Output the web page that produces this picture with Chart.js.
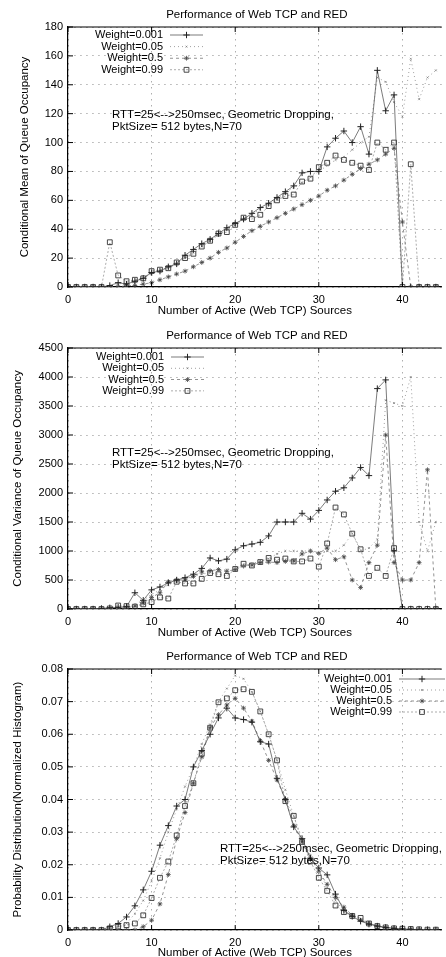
<!DOCTYPE html>
<html><head><meta charset="utf-8">
<style>
html,body{margin:0;padding:0;background:#fff;width:446px;height:957px;overflow:hidden;position:relative}
.c{position:absolute;left:0;width:446px;height:320px}
</style>
<script src="https://cdn.jsdelivr.net/npm/chart.js@4.4.0/dist/chart.umd.min.js"></script>
</head><body>
<div class="c" style="top:0"><canvas id="c1"></canvas></div>
<div class="c" style="top:322px"><canvas id="c2"></canvas></div>
<div class="c" style="top:642px"><canvas id="c3"></canvas></div>
<script>
// ---------------- DATA ----------------
const xValues = [0,1,2,3,4,5,6,7,8,9,10,11,12,13,14,15,16,17,18,19,20,21,22,23,24,25,26,27,28,29,30,31,32,33,34,35,36,37,38,39,40,41,42,43,44];
const xTicks = [0,10,20,30,40];
const meanTicks = [0,20,40,60,80,100,120,140,160,180];
const varTicks = [0,500,1000,1500,2000,2500,3000,3500,4000,4500];
const probTicks = [0,0.01,0.02,0.03,0.04,0.05,0.06,0.07,0.08];
const seriesLabels = ["Weight=0.001","Weight=0.05","Weight=0.5","Weight=0.99"];
const chartTitle = "Performance of Web TCP and RED";
const xAxisTitle = "Number of Active (Web TCP) Sources";
const meanYTitle = "Conditional Mean of Queue Occupancy";
const varYTitle = "Conditional Variance of Queue Occupancy";
const probYTitle = "Probability Distribution(Normalized Histogram)";
const noteLines = ["RTT=25<-->250msec, Geometric Dropping,", "PktSize= 512 bytes,N=70"];

// Conditional mean
const meanW0001 = [0,0,0,0,0,1,3,2,4,6,10,11,14,16,22,26,30,33,37,41,44,47,51,55,58,62,66,70,79,80,80,97,103,108,100,111,92,150,122,133,0,0,0,0,0];
const meanW005  = [0,0,0,0,0,0,2,3,4,6,9,11,13,16,20,24,28,32,36,40,43,47,50,54,57,61,65,69,72,76,80,84,88,90,95,100,104,145,142,128,118,158,130,145,150];
const meanW05   = [0,0,0,0,0,0,0,1,1,2,3,5,7,9,11,14,17,20,24,27,31,35,39,42,45,48,51,54,57,60,63,67,70,74,78,82,85,88,92,96,45,0,0,0,0];
const meanW099  = [0,0,0,0,0,31,8,4,5,6,11,12,13,17,20,23,28,32,37,38,43,48,47,50,56,60,63,64,73,75,83,86,91,88,86,84,81,100,95,100,0,85,0,0,0];

// Conditional variance
const varW0001 = [0,0,0,0,10,20,30,40,280,150,330,380,450,500,540,600,700,880,830,860,1020,1090,1120,1150,1260,1500,1500,1500,1650,1550,1700,1880,2030,2090,2260,2440,2300,3800,3950,1000,0,0,0,0,0];
const varW005  = [0,0,0,0,0,0,20,40,80,150,250,330,420,470,520,560,600,630,650,680,700,740,780,830,870,950,1000,1000,1000,1000,950,1000,1000,1100,1300,1000,1050,1200,3600,3550,3500,4000,1500,1000,1500];
const varW05   = [0,0,0,0,0,0,10,20,50,100,200,280,470,500,500,560,640,660,680,650,680,740,760,800,810,800,820,830,950,1000,960,1050,850,900,500,370,800,1100,3000,800,500,500,800,2400,0];
const varW099  = [0,0,0,0,0,10,60,50,40,80,120,200,180,470,440,440,520,620,600,570,690,780,750,810,880,850,870,820,820,870,730,1130,1750,1630,1300,1030,570,710,570,1050,0,0,0,0,0];

// Probability distribution
const probW0001 = [0,0,0,0,0,0.001,0.002,0.004,0.0074,0.0123,0.018,0.026,0.032,0.038,0.040,0.050,0.055,0.060,0.065,0.068,0.065,0.0645,0.0637,0.0577,0.057,0.0465,0.040,0.0316,0.028,0.022,0.019,0.0169,0.011,0.006,0.0042,0.0027,0.0018,0.0012,0.0008,0.0005,0.0003,0.0002,0.0001,0.0001,0];
const probW005  = [0,0,0,0,0,0,0.001,0.002,0.005,0.009,0.015,0.022,0.030,0.037,0.044,0.050,0.057,0.063,0.070,0.074,0.078,0.077,0.073,0.067,0.060,0.052,0.043,0.035,0.028,0.023,0.018,0.013,0.009,0.006,0.004,0.003,0.002,0.0013,0.0008,0.0005,0.0003,0.0002,0.0001,0.0001,0];
const probW05   = [0,0,0,0,0,0,0,0,0,0.001,0.003,0.008,0.017,0.028,0.036,0.045,0.053,0.062,0.066,0.069,0.071,0.068,0.064,0.058,0.052,0.046,0.040,0.032,0.027,0.022,0.018,0.014,0.010,0.007,0.0045,0.003,0.002,0.0012,0.0007,0.0004,0.0002,0.0002,0.0001,0,0];
const probW099  = [0,0,0,0,0,0.0005,0.001,0.0015,0.002,0.0045,0.0098,0.016,0.021,0.029,0.038,0.045,0.054,0.062,0.0698,0.071,0.0735,0.0738,0.073,0.067,0.060,0.052,0.0395,0.035,0.027,0.021,0.016,0.012,0.0075,0.0055,0.0043,0.0037,0.002,0.0012,0.0008,0.0005,0.0004,0.0003,0.0002,0.0001,0.0001];

// ---------------- STYLE ----------------
const FONT_FAMILY = '"Liberation Sans", Arial, Helvetica, sans-serif';
const FONT_SIZE = 11;
const TITLE_SIZE = 11.5;
const FONT = FONT_SIZE + 'px ' + FONT_FAMILY;
const TFONT = TITLE_SIZE + 'px ' + FONT_FAMILY;
const styles = [
  {borderColor:'#444', borderWidth:0.7, borderDash:[], pointStyle:'cross', pointRadius:3.2, pointBorderWidth:1, pointColor:'#222'},
  {borderColor:'#888', borderWidth:0.8, borderDash:[1,3], pointStyle:'crossRot', pointRadius:1.3, pointBorderWidth:0.7, pointColor:'#777'},
  {borderColor:'#777', borderWidth:0.8, borderDash:[3,3], pointStyle:'star', pointRadius:2.4, pointBorderWidth:0.8, pointColor:'#444'},
  {borderColor:'#888', borderWidth:0.7, borderDash:[2,2], pointStyle:'rect', pointRadius:3.4, pointBorderWidth:0.9, pointColor:'#333'}
];

function makeDatasets(arrs){
  return arrs.map((arr,i)=>{
    const s = styles[i];
    return {
      label: seriesLabels[i],
      data: xValues.map((x,k)=>({x:x, y:arr[k]})),
      borderColor: s.borderColor, borderWidth: s.borderWidth, borderDash: s.borderDash,
      pointStyle: s.pointStyle, pointRadius: s.pointRadius, pointBorderWidth: s.pointBorderWidth,
      pointBorderColor: s.pointColor, pointBackgroundColor: 'rgba(0,0,0,0)',
      pointHoverRadius: s.pointRadius, tension: 0, fill: false
    };
  });
}

const decor = {
  id: 'decor',
  afterDraw(chart, args, o) {
    const ctx = chart.ctx, a = chart.chartArea;
    ctx.save();
    ctx.fillStyle = '#000';
    ctx.font = TFONT;
    ctx.textAlign = 'center'; ctx.textBaseline = 'middle';
    ctx.fillText(chartTitle, (a.left + a.right) / 2 + 2, a.top - 12);
    // top border
    ctx.strokeStyle = '#000'; ctx.lineWidth = 1.2;
    ctx.beginPath(); ctx.moveTo(a.left, a.top); ctx.lineTo(a.right, a.top); ctx.stroke();
    // inward tick marks
    ctx.lineWidth = 1;
    const xs = chart.scales.x, ys = chart.scales.y;
    xs.ticks.forEach(t => {
      const px = xs.getPixelForValue(t.value);
      ctx.beginPath(); ctx.moveTo(px, a.bottom); ctx.lineTo(px, a.bottom - 5);
      ctx.moveTo(px, a.top); ctx.lineTo(px, a.top + 5); ctx.stroke();
    });
    ys.ticks.forEach(t => {
      const py = ys.getPixelForValue(t.value);
      ctx.beginPath(); ctx.moveTo(a.left, py); ctx.lineTo(a.left + 5, py); ctx.stroke();
    });
    // annotation
    ctx.font = TFONT;
    ctx.textAlign = 'left';
    noteLines.forEach((t, i) => ctx.fillText(t, o.noteX, o.noteY + i * 11.5));
    // legend
    ctx.font = FONT;
    chart.data.datasets.forEach((ds, i) => {
      const y = o.legY + i * o.legDy;
      ctx.fillStyle = '#000';
      ctx.textAlign = 'right';
      ctx.fillText(ds.label, o.legX, y);
      ctx.save();
      ctx.strokeStyle = ds.borderColor; ctx.lineWidth = ds.borderWidth;
      ctx.setLineDash(ds.borderDash || []);
      ctx.beginPath(); ctx.moveTo(o.legX + 7, y); ctx.lineTo(o.legX + 7 + o.legLen, y); ctx.stroke();
      ctx.restore();
      ctx.save();
      ctx.strokeStyle = ds.pointBorderColor; ctx.fillStyle = 'rgba(0,0,0,0)'; ctx.lineWidth = ds.pointBorderWidth;
      Chart.helpers.drawPoint(ctx, {pointStyle: ds.pointStyle, radius: ds.pointRadius, rotation: 0, borderWidth: ds.pointBorderWidth}, o.legX + 7 + o.legLen / 2, y);
      ctx.restore();
    });
    ctx.restore();
  }
};

function fmt(v, step){
  if (step < 1) return v === 0 ? '0' : v.toFixed(2);
  return String(v);
}

function build(id, arrs, yTicks, yTitle, lay){
  const yMax = yTicks[yTicks.length - 1];
  const step = yTicks[1] - yTicks[0];
  new Chart(document.getElementById(id), {
    type: 'line',
    data: { datasets: makeDatasets(arrs) },
    options: {
      responsive: true, maintainAspectRatio: false, animation: false,
      layout: { padding: { top: lay.padTop, left: 0, right: 0, bottom: 0 } },
      plugins: { legend: { display: false }, tooltip: { enabled: false }, title: { display: false }, decor: lay },
      scales: {
        x: {
          type: 'linear', min: 0, max: 44.7,
          afterBuildTicks: s => { s.ticks = xTicks.map(v => ({value: v})); },
          afterFit: s => { s.height = lay.xH; },
          ticks: { font: {family: FONT_FAMILY, size: FONT_SIZE}, color: '#000', padding: 6, maxRotation: 0, autoSkip: false, callback: v => String(v) },
          grid: { color: 'rgba(0,0,0,0.4)', lineWidth: 0.8, drawTicks: false, tickLength: 0 },
          border: { display: true, color: '#000', width: 1.2, dash: [1.5, 4.5] },
          title: { display: true, text: xAxisTitle, font: {family: FONT_FAMILY, size: TITLE_SIZE}, color: '#000', padding: {top: 0, bottom: lay.xTitlePad} }
        },
        y: {
          type: 'linear', min: 0, max: yMax,
          afterBuildTicks: s => { s.ticks = yTicks.map(v => ({value: v})); },
          afterFit: s => { s.width = 68; },
          ticks: { font: {family: FONT_FAMILY, size: FONT_SIZE}, color: '#000', padding: 5, autoSkip: false, callback: v => fmt(v, step) },
          grid: { color: 'rgba(0,0,0,0.4)', lineWidth: 0.8, drawTicks: false, tickLength: 0 },
          border: { display: true, color: '#000', width: 1.2, dash: [1.5, 4.5] },
          title: { display: true, text: yTitle, font: {family: FONT_FAMILY, size: TITLE_SIZE}, color: '#000', padding: {top: lay.yTitlePad, bottom: 0} }
        }
      }
    },
    plugins: [decor]
  });
}

build('c1', [meanW0001, meanW005, meanW05, meanW099], meanTicks, meanYTitle,
  {padTop: 27, xH: 33, xTitlePad: 2.2, yTitlePad: 18.2, noteX: 112, noteY: 115, legX: 163, legY: 35, legDy: 11.6, legLen: 33});
build('c2', [varW0001, varW005, varW05, varW099], varTicks, varYTitle,
  {padTop: 26, xH: 33, xTitlePad: 2.2, yTitlePad: 11.2, noteX: 112, noteY: 131, legX: 164, legY: 35, legDy: 11.3, legLen: 33});
build('c3', [probW0001, probW005, probW05, probW099], probTicks, probYTitle,
  {padTop: 27, xH: 32, xTitlePad: 2.2, yTitlePad: 11.2, noteX: 220, noteY: 207, legX: 392, legY: 37, legDy: 11, legLen: 46});
</script>
</body></html>
